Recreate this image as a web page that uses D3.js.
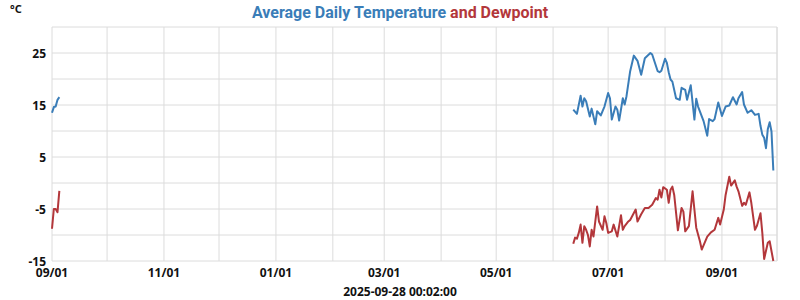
<!DOCTYPE html>
<html>
<head>
<meta charset="utf-8">
<script src="https://cdn.jsdelivr.net/npm/d3@7"></script>
<style>
  body { margin: 0; background: #fff; }
  svg { display: block; }
  .tick-label { font-family: "Noto Sans", sans-serif; font-weight: bold; font-size: 12px; fill: #111; }
</style>
</head>
<body>
<div id="chart"></div>
<script>
// temperature (°C)
const tempDates = ["2024-09-01","2024-09-02","2024-09-03","2024-09-04","2024-09-05",
  "2025-06-12","2025-06-14","2025-06-16","2025-06-17","2025-06-18","2025-06-19","2025-06-21","2025-06-22",
  "2025-06-24","2025-06-25","2025-06-27","2025-06-29","2025-07-01","2025-07-02","2025-07-03","2025-07-05",
  "2025-07-06","2025-07-07","2025-07-09","2025-07-10","2025-07-11","2025-07-13","2025-07-15","2025-07-17",
  "2025-07-19","2025-07-21","2025-07-24","2025-07-25","2025-07-28","2025-07-29","2025-07-30","2025-08-01",
  "2025-08-02","2025-08-03","2025-08-04","2025-08-05","2025-08-07","2025-08-09","2025-08-10","2025-08-12",
  "2025-08-13","2025-08-15","2025-08-17","2025-08-18","2025-08-19","2025-08-22","2025-08-24","2025-08-25",
  "2025-08-27","2025-08-28","2025-08-30","2025-09-01","2025-09-03","2025-09-05","2025-09-07","2025-09-09",
  "2025-09-10","2025-09-12","2025-09-13","2025-09-15","2025-09-17","2025-09-19","2025-09-21","2025-09-22",
  "2025-09-23","2025-09-24","2025-09-25","2025-09-26","2025-09-27","2025-09-28","2025-09-29"];
const tempValues = [13.5,14.6,14.7,16.0,16.5,
  14.1,13.3,16.8,14.7,16.3,15.7,12.8,14.3,
  11.3,13.8,13.0,14.7,17.3,16.3,12.2,14.7,
  14.1,12.0,16.3,15.1,16.7,21.5,24.5,23.5,
  20.8,24.0,25.0,24.7,21.5,21.3,21.6,23.9,
  23.1,21.3,19.9,19.5,16.3,16.0,18.3,17.9,
  16.0,18.8,12.2,16.2,14.7,11.9,9.1,12.3,
  11.9,12.3,15.5,12.9,14.7,14.9,16.5,15.1,
  16.3,17.5,15.1,13.5,14.0,13.1,13.3,11.0,
  9.3,8.7,6.7,10.4,11.7,9.9,2.4];

// dewpoint (°C)
const dewDates = ["2024-09-01","2024-09-02","2024-09-03","2024-09-04","2024-09-05",
  "2025-06-12","2025-06-13","2025-06-14","2025-06-15","2025-06-16","2025-06-17","2025-06-18","2025-06-19",
  "2025-06-20","2025-06-21","2025-06-22","2025-06-23","2025-06-25","2025-06-26","2025-06-28","2025-06-29",
  "2025-06-30","2025-07-01","2025-07-03","2025-07-04","2025-07-06","2025-07-08","2025-07-09","2025-07-10",
  "2025-07-12","2025-07-13","2025-07-16","2025-07-17","2025-07-19","2025-07-21","2025-07-23","2025-07-25",
  "2025-07-27","2025-07-28","2025-07-29","2025-07-30","2025-07-31","2025-08-02","2025-08-03","2025-08-04",
  "2025-08-05","2025-08-06","2025-08-08","2025-08-10","2025-08-11","2025-08-12","2025-08-14","2025-08-16",
  "2025-08-17","2025-08-18","2025-08-20","2025-08-21","2025-08-24","2025-08-26","2025-08-28","2025-08-30",
  "2025-08-31","2025-09-02","2025-09-03","2025-09-05","2025-09-06","2025-09-08","2025-09-09","2025-09-10",
  "2025-09-12","2025-09-13","2025-09-14","2025-09-16","2025-09-17","2025-09-19","2025-09-20","2025-09-22",
  "2025-09-23","2025-09-24","2025-09-26","2025-09-27","2025-09-29"];
const dewValues = [-8.8,-5.0,-5.0,-5.6,-1.5,
  -11.7,-10.5,-10.7,-9.6,-8.0,-11.5,-8.3,-9.0,
  -10.0,-12.2,-9.0,-10.3,-4.5,-7.4,-9.0,-6.4,
  -7.7,-9.6,-9.3,-8.0,-10.3,-6.2,-9.0,-8.3,
  -7.4,-7.1,-5.1,-7.4,-6.0,-4.8,-4.8,-4.2,
  -2.9,-3.2,-1.3,-2.8,-0.8,-1.3,-3.8,-1.3,
  -0.7,-2.3,-9.1,-4.8,-5.5,-9.3,-8.3,-1.6,
  -5.1,-8.6,-11.2,-12.8,-10.3,-9.5,-9.0,-6.7,
  -8.0,-5.1,-2.3,1.2,-0.5,0.5,-0.7,-1.6,
  -4.4,-3.8,-4.2,-1.8,-3.8,-9.0,-8.3,-5.8,
  -9.6,-14.6,-11.5,-11.2,-15.0];

const yTicks = [25, 15, 5, -5, -15];
const timestamp = "2025-09-28 00:02:00";

const W = 800, H = 300;
const margin = {top: 27, right: 23, bottom: 39, left: 52};
const width = W - margin.left - margin.right;
const height = H - margin.top - margin.bottom;

const parse = d3.timeParse("%Y-%m-%d");
const temp = tempDates.map((d, i) => ({date: parse(d), value: tempValues[i]}));
const dew = dewDates.map((d, i) => ({date: parse(d), value: dewValues[i]}));

const x = d3.scaleTime()
    .domain([new Date(2024, 8, 1), new Date(2025, 9, 1)])
    .range([0, width]);
const y = d3.scaleLinear().domain([-15, 30]).range([height, 0]);

const svg = d3.select("#chart").append("svg")
    .attr("width", W).attr("height", H);

const g = svg.append("g")
    .attr("transform", `translate(${margin.left},${margin.top})`);

// grid
const months = d3.timeMonth.range(new Date(2024, 8, 1), new Date(2025, 9, 2));
g.selectAll(".vgrid").data(months).enter().append("line")
    .attr("x1", d => x(d)).attr("x2", d => x(d))
    .attr("y1", 0).attr("y2", height)
    .attr("stroke", "#dcdcdc").attr("stroke-width", 1);
g.append("line")
    .attr("x1", width).attr("x2", width).attr("y1", 0).attr("y2", height)
    .attr("stroke", "#dcdcdc");
g.selectAll(".hgrid").data(d3.range(-15, 31, 5)).enter().append("line")
    .attr("x1", 0).attr("x2", width)
    .attr("y1", d => y(d)).attr("y2", d => y(d))
    .attr("stroke", "#dcdcdc").attr("stroke-width", 1);

// y labels
g.selectAll(".ylab").data(yTicks).enter().append("text")
    .attr("class", "tick-label")
    .attr("x", -6).attr("y", d => y(d) + 4.5)
    .attr("text-anchor", "end")
    .text(d => d);

// x labels, every other month
const xTicks = months.filter((d, i) => i % 2 === 0);
g.selectAll(".xlab").data(xTicks).enter().append("text")
    .attr("class", "tick-label")
    .attr("x", d => x(d)).attr("y", height + 16)
    .attr("text-anchor", "middle")
    .text(d => d3.timeFormat("%m/%d")(d));

// break lines across long gaps
function segments(data) {
  const out = [[]];
  data.forEach((d, i) => {
    if (i > 0 && (d.date - data[i - 1].date) > 20 * 864e5) out.push([]);
    out[out.length - 1].push(d);
  });
  return out;
}

const line = d3.line().x(d => x(d.date)).y(d => y(d.value));

g.selectAll(".temp").data(segments(temp)).enter().append("path")
    .attr("d", line).attr("fill", "none")
    .attr("stroke", "#3a7db8").attr("stroke-width", 2).attr("stroke-linejoin", "round");
g.selectAll(".dew").data(segments(dew)).enter().append("path")
    .attr("d", line).attr("fill", "none")
    .attr("stroke", "#b3373b").attr("stroke-width", 2).attr("stroke-linejoin", "round");

// title
const title = svg.append("text")
    .attr("x", W / 2).attr("y", 18)
    .attr("text-anchor", "middle")
    .style("font-family", "Roboto, sans-serif")
    .style("font-weight", "bold")
    .style("font-size", "16px");
title.append("tspan").attr("fill", "#3a7db8").text("Average Daily Temperature");
title.append("tspan").attr("fill", "#b3373b").text(" and Dewpoint");

// unit
svg.append("text")
    .attr("class", "tick-label")
    .attr("x", 10).attr("y", 13)
    .style("font-size", "11px")
    .text("°C");

// timestamp
svg.append("text")
    .attr("class", "tick-label")
    .attr("x", W / 2).attr("y", 296)
    .attr("text-anchor", "middle")
    .text(timestamp);
</script>
</body>
</html>
